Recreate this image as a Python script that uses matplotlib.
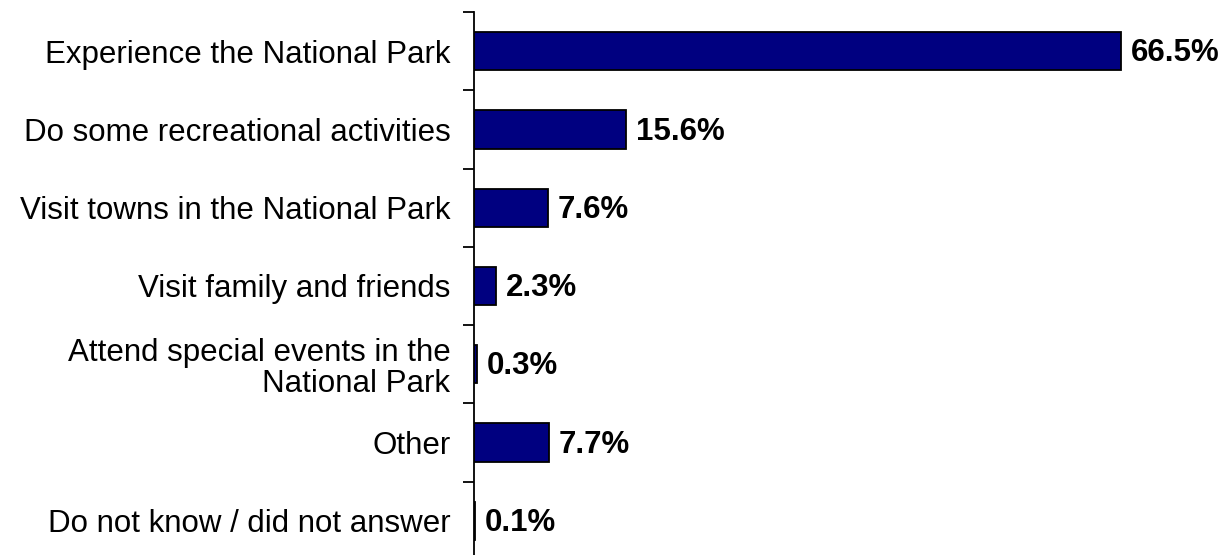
import numpy as np
import matplotlib.pyplot as plt

plt.rcParams['font.family'] = ['Liberation Sans', 'DejaVu Sans']

categories = [
    'Experience the National Park',
    'Do some recreational activities',
    'Visit towns in the National Park',
    'Visit family and friends',
    'Attend special events in the\nNational Park',
    'Other',
    'Do not know / did not answer',
]
shares = [66.5, 15.6, 7.6, 2.3, 0.3, 7.7, 0.1]

fig = plt.figure(figsize=(12.26, 5.55), dpi=100)
ax = fig.add_axes([474 / 1226, -5 / 555, (1226 - 474) / 1226, 548 / 555])

y = np.arange(len(categories))
ax.barh(y, shares, height=0.49, color='#000080', edgecolor='black', linewidth=1.3)

for yi, v in zip(y, shares):
    ax.annotate(f'{v}%', (v, yi), xytext=(7, -1.5), textcoords='offset points',
                va='center', ha='left', fontsize=22.5, fontweight='bold')

ax.set_xlim(0, (1226 - 474) / 9.73)
ax.set_ylim(len(categories) - 0.5, -0.5)

# boundary ticks between categories, labels at the centres
ax.set_yticks(np.arange(len(categories) + 1) - 0.5)
ax.set_yticklabels([])
ax.tick_params(axis='y', which='major', direction='out', length=8, width=1.3)
ax.set_yticks(y, minor=True)
ax.set_yticklabels(categories, minor=True, fontsize=22.5, ha='right',
                   multialignment='right', linespacing=1.05)
ax.tick_params(axis='y', which='minor', length=0, pad=17)

ax.set_xticks([])
for side in ('top', 'right', 'bottom'):
    ax.spines[side].set_visible(False)
ax.spines['left'].set_linewidth(1.3)

fig.savefig('out.png', dpi=100)
